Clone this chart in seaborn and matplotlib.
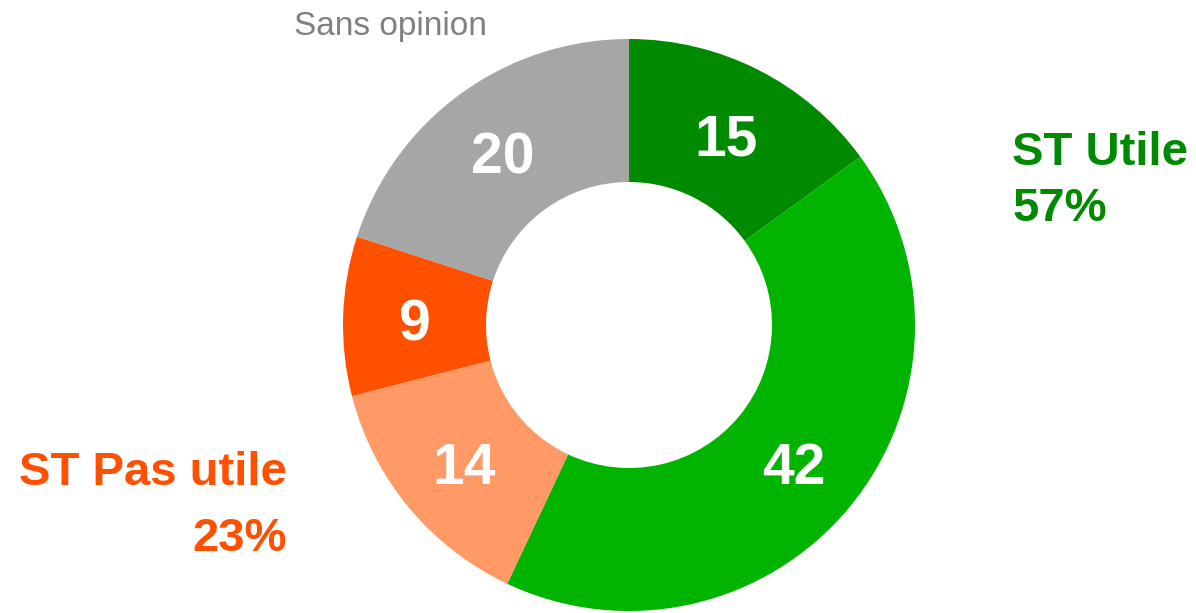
import seaborn as sns
import matplotlib.pyplot as plt

# Données du graphique (sens horaire depuis le haut)
categories = ['Très utile', 'Plutôt utile', 'Plutôt pas utile', 'Pas du tout utile', 'Sans opinion']
values = [15, 42, 14, 9, 20]
colors = ['#008A00', '#00B400', '#FF9966', '#FF5000', '#A6A6A6']

group_labels = ['ST Utile', '57%', 'ST Pas utile', '23%', 'Sans opinion']

W, H = 1196, 613

sns.set_theme(style="white")
plt.rcParams['font.family'] = ['Liberation Sans', 'DejaVu Sans']

fig = plt.figure(figsize=(W / 100, H / 100), dpi=100)
ax = fig.add_axes([0, 0, 1, 1])

# Anneau
wedges, texts, autotexts = ax.pie(
    values, colors=colors, startangle=90, counterclock=False,
    center=(629, H - 325), radius=286, frame=True,
    wedgeprops=dict(width=143, linewidth=0),
    autopct=lambda p: f'{p:.0f}', pctdistance=0.75,
    textprops=dict(color='white', fontsize=41, fontweight='bold'),
)
# léger décalage vers le bas des valeurs
for t in autotexts:
    x, y = t.get_position()
    t.set_position((x, y - 7))

ax.set_xlim(0, W)
ax.set_ylim(0, H)
ax.set_aspect('equal')
ax.axis('off')

# Libellés de regroupement
ax.text(1012, H - 165, group_labels[0], color='#008A00', fontsize=34,
        fontweight='bold', ha='left', va='baseline')
ax.text(1012, H - 221, group_labels[1], color='#008A00', fontsize=34,
        fontweight='bold', ha='left', va='baseline')
ax.text(287, H - 485, group_labels[2], color='#FF5000', fontsize=34,
        fontweight='bold', ha='right', va='baseline')
ax.text(287, H - 551, group_labels[3], color='#FF5000', fontsize=34,
        fontweight='bold', ha='right', va='baseline')
ax.text(390, H - 35, group_labels[4], color='#808080', fontsize=24,
        ha='center', va='baseline')

plt.savefig('out.png', dpi=100)
